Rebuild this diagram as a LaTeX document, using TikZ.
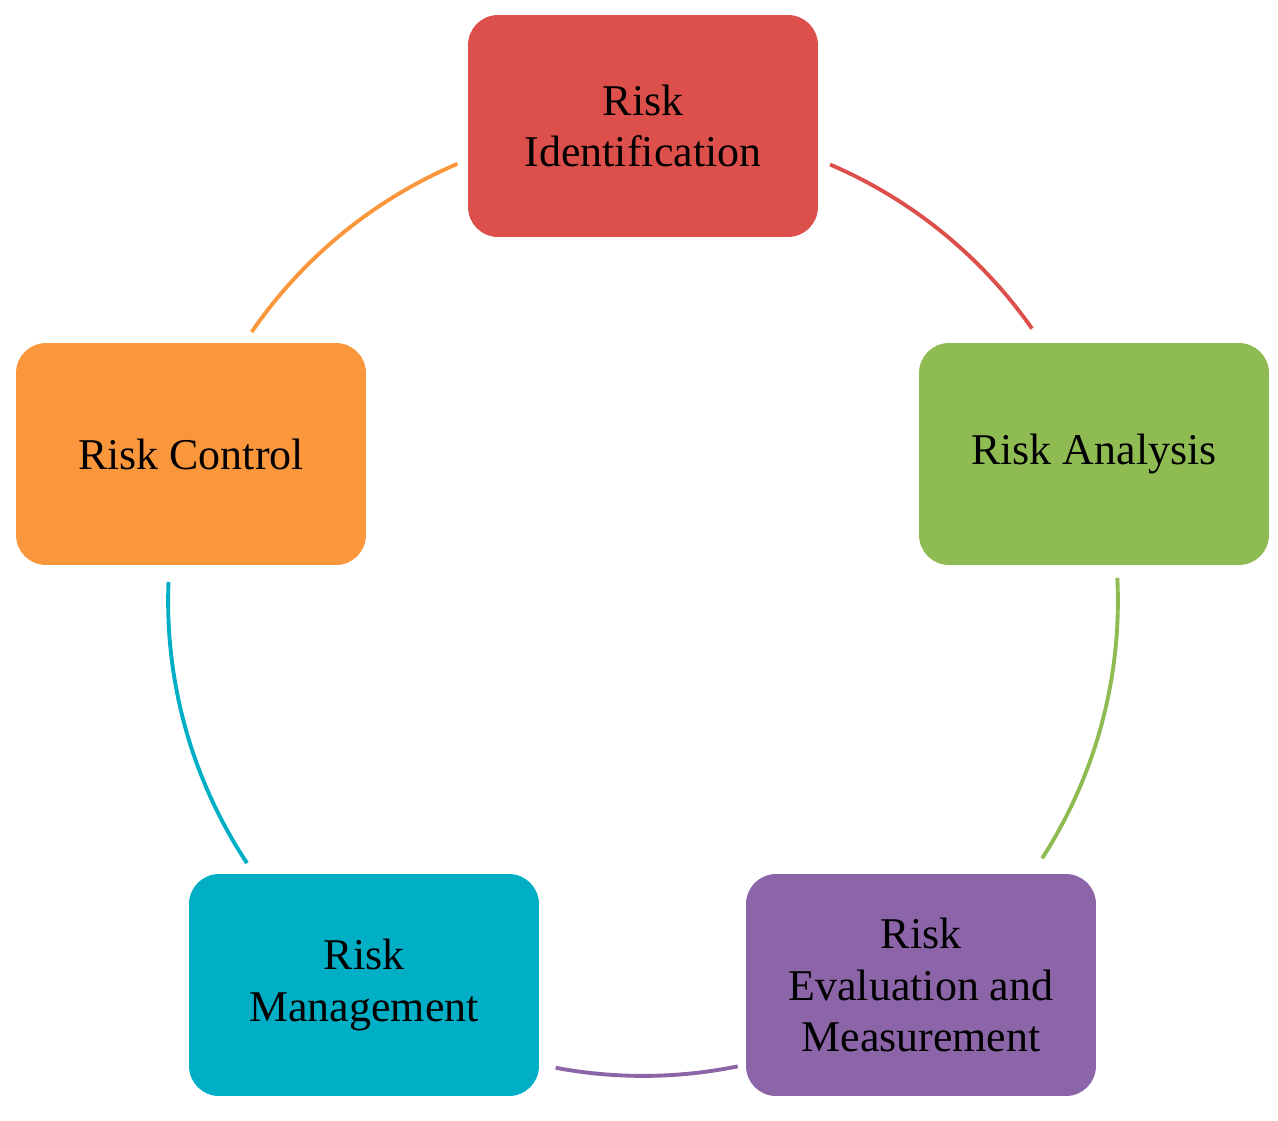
\documentclass[tikz,border=0pt]{standalone}
\usepackage{fontspec}
\setmainfont{Liberation Serif}
\definecolor{cred}{HTML}{DC4F4B}
\definecolor{cgreen}{HTML}{8FBC52}
\definecolor{cpurple}{HTML}{8C64A8}
\definecolor{cteal}{HTML}{00AEC6}
\definecolor{corange}{HTML}{FA963C}
\begin{document}
\begin{tikzpicture}[x=0.02cm,y=-0.02cm,
  box/.style={rounded corners=0.6cm,minimum width=7cm,minimum height=4.44cm,align=center,
    font=\fontsize{25}{29.5}\selectfont,text=black,inner sep=0pt},
  arc/.style={line width=2.2pt}]
\useasboundingbox (0,0) rectangle (1278,1120);
\node[box,fill=cred] (ri) at (643,126) {Risk\\Identification};
\node[box,fill=cgreen] (ra) at (1094,454) {Risk Analysis};
\node[box,fill=cpurple] (re) at (921,985) {Risk\\Evaluation and\\Measurement};
\node[box,fill=cteal] (rm) at (364,985) {Risk\\Management};
\node[box,fill=corange] (rc) at (191,454) {Risk Control};
\coordinate (c) at (643,601);
\draw[arc,cred] ([shift={(66.8:9.5cm)}]c) arc[start angle=66.8,end angle=35,radius=9.5cm];
\draw[arc,cgreen] ([shift={(2.8:9.5cm)}]c) arc[start angle=2.8,end angle=-32.8,radius=9.5cm];
\draw[arc,cpurple] ([shift={(-78.5:9.5cm)}]c) arc[start angle=-78.5,end angle=-100.6,radius=9.5cm];
\draw[arc,cteal] ([shift={(-146.5:9.5cm)}]c) arc[start angle=-146.5,end angle=-182.3,radius=9.5cm];
\draw[arc,corange] ([shift={(145.5:9.5cm)}]c) arc[start angle=145.5,end angle=113,radius=9.5cm];
\end{tikzpicture}
\end{document}
